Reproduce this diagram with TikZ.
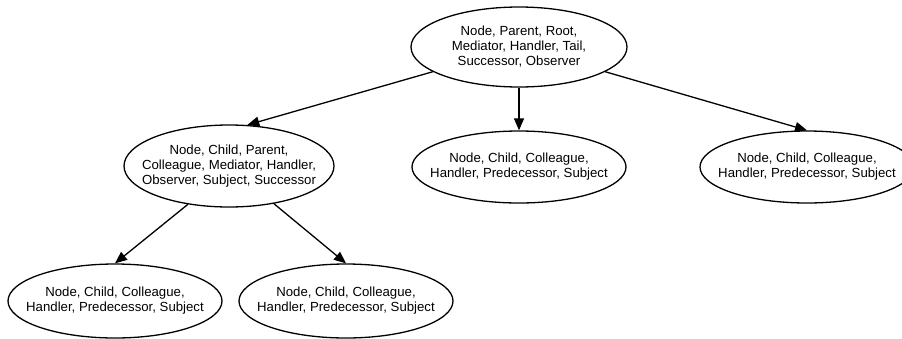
\documentclass[tikz,border=0pt]{standalone}
\usepackage{fontspec}
\setmainfont{Liberation Sans}
\usetikzlibrary{shapes.geometric,arrows.meta}

\tikzset{
  state/.style={ellipse, draw, line width=1.3pt, inner sep=0pt,
    minimum width=214pt, minimum height=72pt},
  tall/.style={minimum height=80pt},
  stext/.style={align=center, inner sep=0pt,
    font=\fontsize{13.2}{15}\selectfont},
  arr/.style={line width=1.3pt, -{Triangle[length=12pt,width=10pt]}}
}

\begin{document}
\begin{tikzpicture}[x=1pt,y=-1pt]
  \useasboundingbox (0,0) rectangle (902,338);

  % Hierarchy of roles
  \node[state, tall, minimum width=216pt,
        label={[stext]center:Node, Parent, Root,\\Mediator, Handler, Tail,\\Successor, Observer}]
    (top) at (519,47) {};

  \node[state, tall, minimum width=210pt, minimum height=82pt,
        label={[stext]center:Node, Child, Parent,\\Colleague, Mediator, Handler,\\Observer, Subject, Successor}]
    (ml) at (229,166) {};

  \node[state,
        label={[stext]center:Node, Child, Colleague,\\Handler, Predecessor, Subject}]
    (mm) at (519,167) {};

  \node[state,
        label={[stext]center:Node, Child, Colleague,\\Handler, Predecessor, Subject}]
    (mr) at (807,167) {};

  \node[state, minimum height=74pt,
        label={[stext]center:Node, Child, Colleague,\\Handler, Predecessor, Subject}]
    (bl) at (115,301) {};

  \node[state, minimum height=74pt,
        label={[stext]center:Node, Child, Colleague,\\Handler, Predecessor, Subject}]
    (bm) at (346,301) {};

  % Edges
  \draw[arr] (top.196) -- (ml.66);
  \draw[arr] (top.south) -- (mm.north);
  \draw[arr] (top.344) -- (mr.north);
  \draw[arr] (ml.223) -- (bl.north);
  \draw[arr] (ml.320) -- (bm.north);
\end{tikzpicture}
\end{document}
